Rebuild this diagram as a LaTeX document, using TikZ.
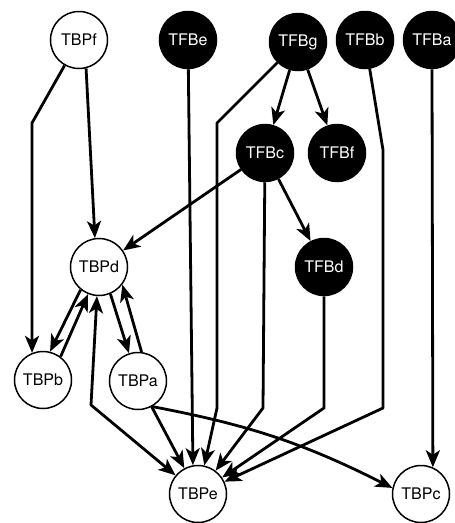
\documentclass[tikz,border=0pt]{standalone}
\usepackage{fontspec}
\setmainfont{TeX Gyre Heros}
\usetikzlibrary{arrows.meta,calc}
\begin{document}
\begin{tikzpicture}[x=1pt,y=-1pt,
  >={Stealth[length=17pt,width=14pt,inset=4.5pt]},
  wnode/.style={circle,draw=black,line width=1.5pt,fill=white,minimum size=57pt,inner sep=0pt,font=\fontsize{16}{16}\selectfont},
  bnode/.style={wnode,fill=black,text=white},
  edge/.style={->,line width=2.8pt,line join=round}]
\useasboundingbox (0,0) rectangle (455,523);
% nodes
\node[wnode] (TBPf) at (79,40) {TBPf};
\node[bnode] (TFBe) at (188,40) {TFBe};
\node[bnode] (TFBg) at (298,42) {TFBg};
\node[bnode] (TFBb) at (365,40) {TFBb};
\node[bnode] (TFBa) at (432,40) {TFBa};
\node[bnode] (TFBc) at (265,153) {TFBc};
\node[bnode] (TFBf) at (337,153) {TFBf};
\node[wnode] (TBPd) at (99,267) {TBPd};
\node[bnode] (TFBd) at (324,267) {TFBd};
\node[wnode] (TBPb) at (43,380) {TBPb};
\node[wnode] (TBPa) at (138,381) {TBPa};
\node[wnode] (TBPe) at (198,494) {TBPe};
\node[wnode] (TBPc) at (421,494) {TBPc};
% bend points
\coordinate (p1) at (32,123);
\coordinate (p2) at (32,330);
\coordinate (g1) at (217,123);
\coordinate (g2) at (217,408);
\coordinate (c1) at (263,408);
\coordinate (d1) at (324,408);
\coordinate (b1) at (383,150);
\coordinate (b2) at (383,408);
\coordinate (e1) at (91,405);
% edges
\draw[edge] (TBPf) -- (p1) -- (p2) -- (TBPb.112);
\draw[edge] (TBPf.-76) -- (TBPd.98);
\draw[edge] (TFBe) -- (TBPe.100);
\draw[edge] (TFBg) -- (g1) -- (g2) -- (TBPe);
\draw[edge] (TFBg) -- (TFBc);
\draw[edge] (TFBg) -- (TFBf);
\draw[edge] (TFBb) -- (b1) -- (b2) -- (TBPe);
\draw[edge] (TFBa.south) -- (TBPc.66);
\draw[edge] (TFBc) -- (TBPd);
\draw[edge] (TFBc) -- (TFBd);
\draw[edge] (TFBc) -- (c1) -- (TBPe);
\draw[edge] (TFBd) -- (d1) -- (TBPe);
\draw[edge] (TBPd.-129) -- (TBPb.76);
\draw[edge] (TBPb.53) -- (TBPd.-112);
\draw[edge] (TBPd.-67) -- (TBPa.108);
\draw[edge] (TBPa.83) -- (TBPd.-37);
\draw[edge,<->] (TBPd.-94) -- (e1) -- (TBPe);
\draw[edge] (TBPa) -- (TBPe);
\draw[edge] (TBPa.-61) to[bend left=8] (TBPc.168);
\end{tikzpicture}
\end{document}
